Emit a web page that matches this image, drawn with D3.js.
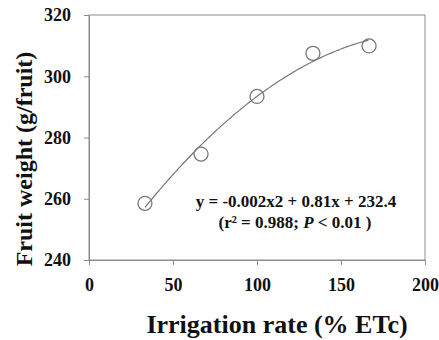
<!DOCTYPE html>
<style>
  body { margin: 0; background: #fff; }
  svg { display: block; }
  text { font-family: "Liberation Serif", "Times New Roman", serif; font-weight: bold; fill: #111; }
  .frame { stroke: #8c8c8c; fill: none; }
</style>
<body>
</body>
<script src="https://cdn.jsdelivr.net/npm/d3@7"></script>
<script>
  const rates = [33.3, 66.7, 100, 133.3, 166.7];
  const weights = [258.5, 274.6, 293.4, 307.5, 309.9];
  const xTicks = [0, 50, 100, 150, 200];
  const yTicks = [240, 260, 280, 300, 320];
  const coef = {a: -0.002, b: 0.81, c: 232.4};

  const w = 439, h = 340;
  const l = 89, r = 425, t = 15, b = 260;

  const svg = d3.select('body').append('svg')
    .attr('width', w)
    .attr('height', h);

  const x = d3.scaleLinear().domain([0, 200]).range([l, r]);
  const y = d3.scaleLinear().domain([240, 320]).range([b, t]);

  // frame
  svg.append('rect').attr('class', 'frame')
    .attr('x', l).attr('y', t).attr('width', r - l).attr('height', b - t);

  const xAxis = svg.append('g')
    .attr('transform', `translate(0, ${b})`)
    .call(d3.axisBottom(x).tickValues(xTicks).tickSize(5).tickSizeOuter(0).tickPadding(13));
  const yAxis = svg.append('g')
    .attr('transform', `translate(${l}, 0)`)
    .call(d3.axisLeft(y).tickValues(yTicks).tickSize(5).tickSizeOuter(0).tickPadding(13));

  [xAxis, yAxis].forEach(a => {
    a.attr('font-family', 'Liberation Serif').attr('font-size', 18).attr('font-weight', 'bold');
    a.select('.domain').attr('stroke', '#8c8c8c');
    a.selectAll('.tick line').attr('stroke', '#8c8c8c');
    a.selectAll('.tick text').attr('fill', '#111').style('font-size', '18px');
  });

  // trend curve
  const fit = v => coef.a * v * v + coef.b * v + coef.c;
  const curveX = d3.range(rates[0], rates[rates.length - 1] + 0.01, 1);
  svg.append('path')
    .datum(curveX)
    .attr('fill', 'none')
    .attr('stroke', '#777')
    .attr('stroke-width', 1.2)
    .attr('d', d3.line().x(d => x(d)).y(d => y(fit(d))));

  svg.append('g').selectAll('circle')
    .data(rates.map((v, i) => ({v, wt: weights[i]})))
    .join('circle')
    .attr('cx', d => x(d.v))
    .attr('cy', d => y(d.wt))
    .attr('r', 7)
    .attr('fill', 'none')
    .attr('stroke', '#777')
    .attr('stroke-width', 1.3);

  // equation
  svg.append('text')
    .attr('x', 296).attr('y', 207)
    .attr('text-anchor', 'middle')
    .style('font-size', '17px')
    .text('y = -0.002x2 + 0.81x + 232.4');
  const eq2 = svg.append('text')
    .attr('x', 295).attr('y', 228)
    .attr('text-anchor', 'middle')
    .style('font-size', '17px');
  eq2.append('tspan').text('(r² = 0.988; ');
  eq2.append('tspan').style('font-style', 'italic').text('P');
  eq2.append('tspan').text(' < 0.01 )');

  // axis titles
  svg.append('text')
    .attr('x', 277).attr('y', 333)
    .attr('text-anchor', 'middle')
    .style('font-size', '26px')
    .text('Irrigation rate (% ETc)');
  svg.append('text')
    .attr('transform', 'translate(32, 159) rotate(-90)')
    .attr('text-anchor', 'middle')
    .style('font-size', '24px')
    .text('Fruit weight (g/fruit)');
</script>
